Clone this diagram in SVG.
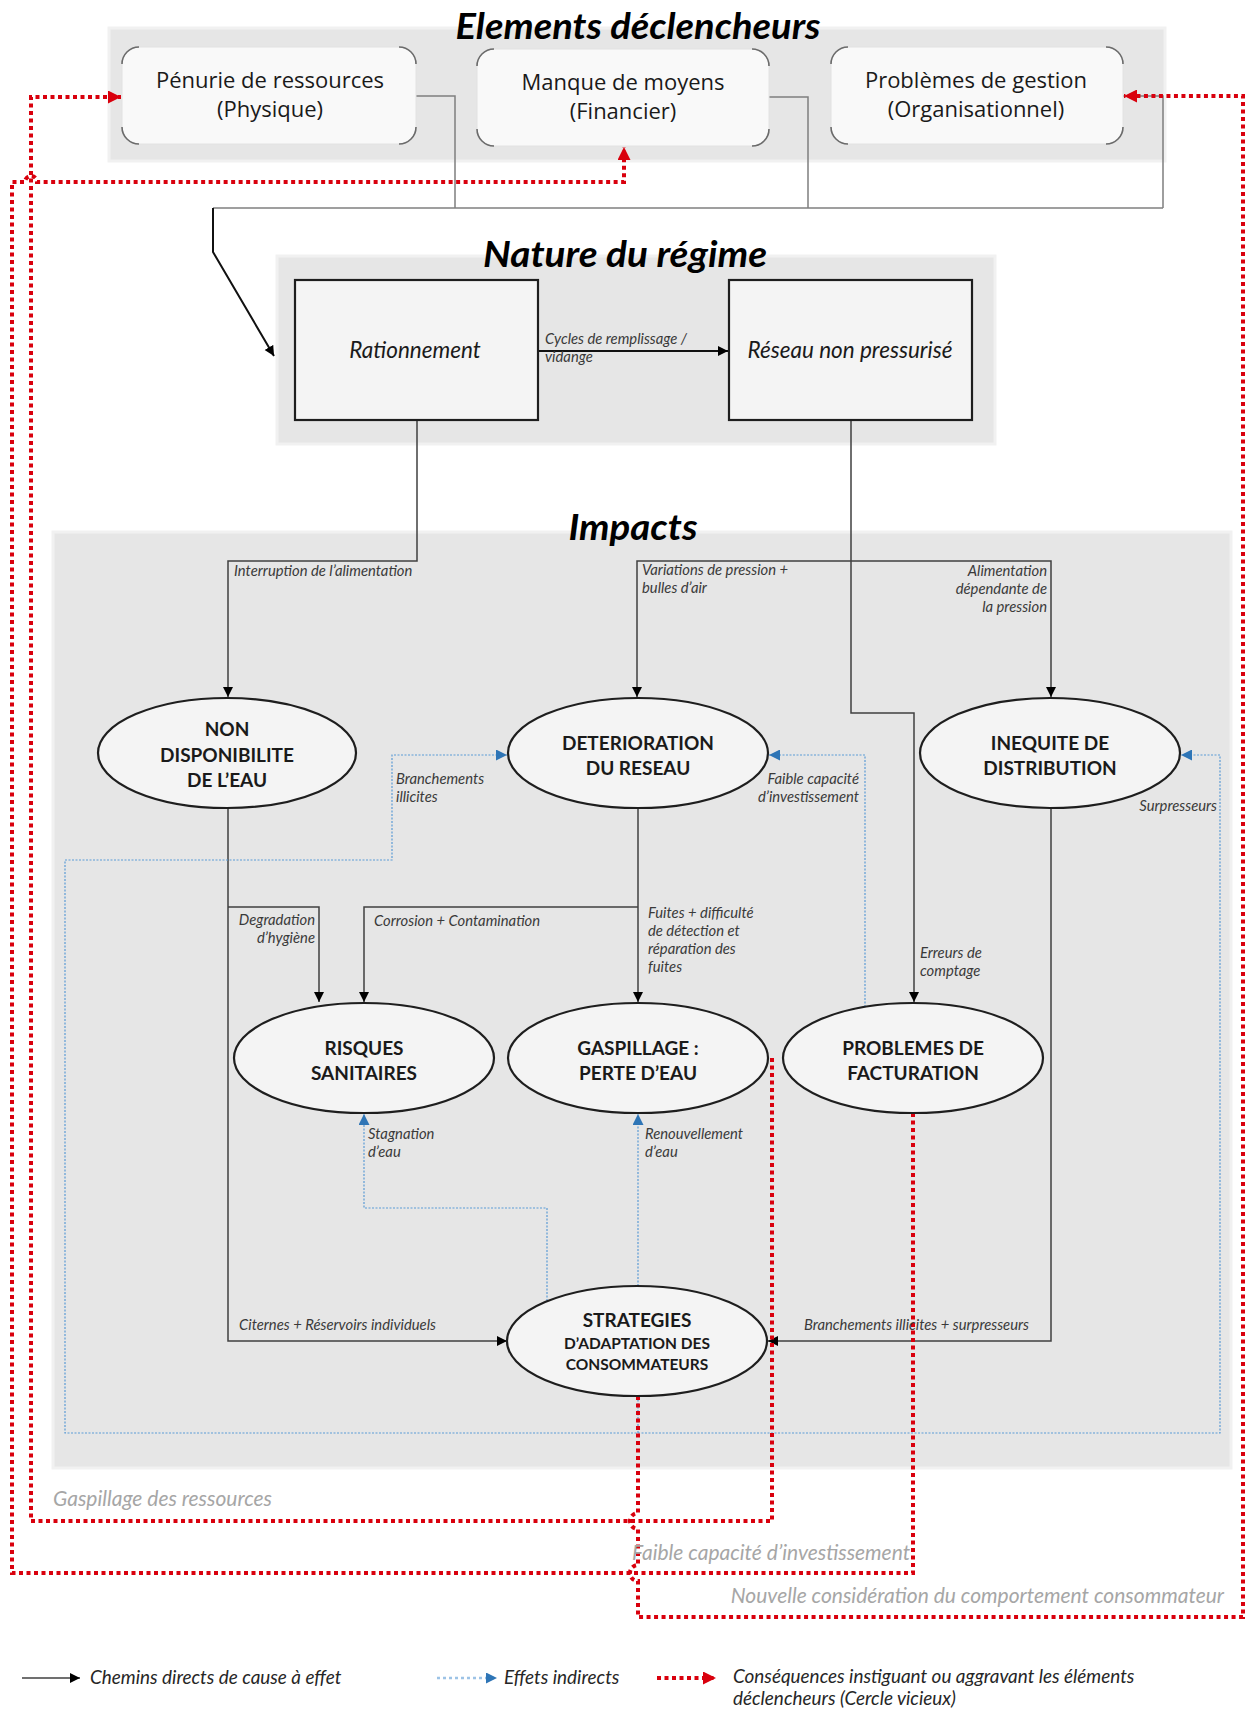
<svg xmlns="http://www.w3.org/2000/svg" width="1248" height="1711" viewBox="0 0 1248 1711">
<defs>
<style>
.panel{fill:#e6e6e6;stroke:#f1f1f1;stroke-width:3}
.tbox{fill:#f9f9f9;stroke:#e2e2e2;stroke-width:1}
.corner{fill:none;stroke:#6b6b6b;stroke-width:1.6}
.nbox{fill:#f4f4f4;stroke:#1e1e1e;stroke-width:2.2}
.ell{fill:#f4f4f4;stroke:#1e1e1e;stroke-width:2.2}
.title{font-family:Lato,"Liberation Sans",sans-serif;font-weight:bold;font-style:italic;font-size:36px;fill:#000;text-anchor:middle}
.tb{font-family:"Open Sans","Liberation Sans",sans-serif;font-size:22px;fill:#1a1a1a;text-anchor:middle}
.nt{font-family:Lato,"Liberation Sans",sans-serif;font-style:italic;font-size:22.5px;fill:#1a1a1a;text-anchor:middle}
.et{font-family:Lato,"Liberation Sans",sans-serif;font-weight:bold;font-size:19px;fill:#1a1a1a;text-anchor:middle}
.es{font-family:Lato,"Liberation Sans",sans-serif;font-weight:bold;font-size:15.5px;fill:#1a1a1a;text-anchor:middle}
.lb{font-family:Lato,"Liberation Sans",sans-serif;font-style:italic;font-size:14.8px;fill:#3a3a3a}
.lr{font-family:Lato,"Liberation Sans",sans-serif;font-style:italic;font-size:21px;fill:#a6a6a6}
.lg{font-family:Lato,"Liberation Sans",sans-serif;font-style:italic;font-size:18.9px;fill:#262626}
.end{text-anchor:end}
.gray{fill:none;stroke:#7f7f7f;stroke-width:1.5}
.blk{fill:none;stroke:#404040;stroke-width:1.5}
.blue{fill:none;stroke:#5b9bd5;stroke-width:1.2;stroke-dasharray:2 1.5}
.red{fill:none;stroke:#d9000d;stroke-width:4;stroke-dasharray:4 3.5}
</style>
<marker id="ab" viewBox="0 0 10 10" refX="10" refY="5" markerWidth="10" markerHeight="11" markerUnits="userSpaceOnUse" orient="auto"><path d="M0,0 L10,5 L0,10 z" fill="#000"/></marker>
<marker id="abl" viewBox="0 0 10 10" refX="10" refY="5" markerWidth="11" markerHeight="11" markerUnits="userSpaceOnUse" orient="auto"><path d="M0,0 L10,5 L0,10 z" fill="#2e75b6"/></marker>
<marker id="ar" viewBox="0 0 10 10" refX="10" refY="5" markerWidth="13" markerHeight="13" markerUnits="userSpaceOnUse" orient="auto"><path d="M0,0 L10,5 L0,10 z" fill="#d9000d"/></marker>
</defs>
<rect width="1248" height="1711" fill="#ffffff"/>

<g id="panels">
<rect class="panel" x="109" y="28" width="1056" height="133"/>
<rect class="panel" x="277" y="256" width="718" height="188"/>
<rect class="panel" x="53" y="532" width="1178" height="936"/>
<text class="title" x="638" y="39" textLength="365" lengthAdjust="spacingAndGlyphs">Elements déclencheurs</text>
<text class="title" x="625" y="267" textLength="284" lengthAdjust="spacingAndGlyphs">Nature du régime</text>
<text class="title" x="633" y="540" textLength="129" lengthAdjust="spacingAndGlyphs">Impacts</text>
</g>

<g id="connectors">
<path class="gray" d="M416,96 H455 V208"/>
<path class="gray" d="M769,97 H808 V208"/>
<path class="gray" d="M1123,96 H1163 V208"/>
<path class="gray" d="M213,208 H1163"/>
<path fill="none" stroke="#111" stroke-width="2" d="M213,208 V252 L274,356" marker-end="url(#ab)"/>
<path fill="none" stroke="#111" stroke-width="2.2" d="M538,351 H728" marker-end="url(#ab)"/>

<path class="blk" d="M417,420 V561 H228 V697" marker-end="url(#ab)"/>
<path class="blk" d="M851,420 V713 H914 V1002" marker-end="url(#ab)"/>
<path class="blk" d="M851,561 H637 V697" marker-end="url(#ab)"/>
<path class="blk" d="M851,561 H1051 V697" marker-end="url(#ab)"/>
<path class="blk" d="M228,808 V1341 H507" marker-end="url(#ab)"/>
<path class="blk" d="M228,907 H319 V1002" marker-end="url(#ab)"/>
<path class="blk" d="M638,808 V1002" marker-end="url(#ab)"/>
<path class="blk" d="M638,907 H364 V1002" marker-end="url(#ab)"/>
<path class="blk" d="M1051,808 V1341 H768" marker-end="url(#ab)"/>

<path class="blue" d="M638,1396 V1433 H65 V860 H392 V755 H507" marker-end="url(#abl)"/>
<path class="blue" d="M638,1433 H1220 V755 H1181" marker-end="url(#abl)"/>
<path class="blue" d="M547,1301 V1208 H364 V1114" marker-end="url(#abl)"/>
<path class="blue" d="M638,1286 V1114" marker-end="url(#abl)"/>
<path class="blue" d="M865,1007 V755 H769" marker-end="url(#abl)"/>

<path class="red" d="M772,1058 V1521 H31 V97 H121" marker-end="url(#ar)"/>
<path class="red" d="M913,1113 V1573 H12 V182 H25 A6,6 0 0 1 37,182 H624 V147" marker-end="url(#ar)"/>
<path class="red" d="M638,1396 V1513 A8,8 0 0 0 638,1529 V1565 A8,8 0 0 0 638,1581 V1617 H1243 V96 H1124" marker-end="url(#ar)"/>

<text class="lb" x="545" y="344">Cycles de remplissage /</text>
<text class="lb" x="545" y="362">vidange</text>
<text class="lb" x="234" y="576">Interruption de l’alimentation</text>
<text class="lb" x="642" y="575">Variations de pression +</text>
<text class="lb" x="642" y="593">bulles d’air</text>
<text class="lb end" x="1047" y="576">Alimentation</text>
<text class="lb end" x="1047" y="594">dépendante de</text>
<text class="lb end" x="1047" y="612">la pression</text>
<text class="lb" x="396" y="784">Branchements</text>
<text class="lb" x="396" y="802">illicites</text>
<text class="lb end" x="859" y="784">Faible capacité</text>
<text class="lb end" x="859" y="802">d’investissement</text>
<text class="lb end" x="1217" y="811">Surpresseurs</text>
<text class="lb end" x="315" y="925">Degradation</text>
<text class="lb end" x="315" y="943">d’hygiène</text>
<text class="lb" x="374" y="926">Corrosion + Contamination</text>
<text class="lb" x="648" y="918">Fuites + difficulté</text>
<text class="lb" x="648" y="936">de détection et</text>
<text class="lb" x="648" y="954">réparation des</text>
<text class="lb" x="648" y="972">fuites</text>
<text class="lb" x="920" y="958">Erreurs de</text>
<text class="lb" x="920" y="976">comptage</text>
<text class="lb" x="368" y="1139">Stagnation</text>
<text class="lb" x="368" y="1157">d’eau</text>
<text class="lb" x="645" y="1139">Renouvellement</text>
<text class="lb" x="645" y="1157">d’eau</text>
<text class="lb" x="239" y="1330">Citernes + Réservoirs individuels</text>
<text class="lb" x="804" y="1330">Branchements illicites + surpresseurs</text>

<text class="lr" x="53" y="1506">Gaspillage des ressources</text>
<text class="lr" x="632" y="1560">Faible capacité d’investissement</text>
<text class="lr end" x="1224" y="1603">Nouvelle considération du comportement consommateur</text>
</g>

<g id="n-penurie">
<rect class="tbox" x="122" y="47" width="294" height="97" rx="17"/>
<path class="corner" d="M122,64 A17,17 0 0 1 139,47 M399,47 A17,17 0 0 1 416,64 M416,127 A17,17 0 0 1 399,144 M139,144 A17,17 0 0 1 122,127"/>
<text class="tb" x="270" y="88">Pénurie de ressources</text>
<text class="tb" x="270" y="117">(Physique)</text>
</g>
<g id="n-manque">
<rect class="tbox" x="477" y="49" width="292" height="97" rx="17"/>
<path class="corner" d="M477,66 A17,17 0 0 1 494,49 M752,49 A17,17 0 0 1 769,66 M769,129 A17,17 0 0 1 752,146 M494,146 A17,17 0 0 1 477,129"/>
<text class="tb" x="623" y="90">Manque de moyens</text>
<text class="tb" x="623" y="119">(Financier)</text>
</g>
<g id="n-problemes">
<rect class="tbox" x="831" y="47" width="292" height="97" rx="17"/>
<path class="corner" d="M831,64 A17,17 0 0 1 848,47 M1106,47 A17,17 0 0 1 1123,64 M1123,127 A17,17 0 0 1 1106,144 M848,144 A17,17 0 0 1 831,127"/>
<text class="tb" x="976" y="88">Problèmes de gestion</text>
<text class="tb" x="976" y="117">(Organisationnel)</text>
</g>

<g id="n-rationnement">
<rect class="nbox" x="295" y="280" width="243" height="140"/>
<text class="nt" x="415" y="358">Rationnement</text>
</g>
<g id="n-reseau">
<rect class="nbox" x="729" y="280" width="243" height="140"/>
<text class="nt" x="850" y="358">Réseau non pressurisé</text>
</g>

<g id="n-nondispo">
<ellipse class="ell" cx="227" cy="753" rx="129" ry="55"/>
<text class="et" x="227" y="736">NON</text>
<text class="et" x="227" y="762">DISPONIBILITE</text>
<text class="et" x="227" y="787">DE L’EAU</text>
</g>
<g id="n-deterioration">
<ellipse class="ell" cx="638" cy="753" rx="130" ry="55"/>
<text class="et" x="638" y="750">DETERIORATION</text>
<text class="et" x="638" y="775">DU RESEAU</text>
</g>
<g id="n-inequite">
<ellipse class="ell" cx="1050" cy="753" rx="130" ry="55"/>
<text class="et" x="1050" y="750">INEQUITE DE</text>
<text class="et" x="1050" y="775">DISTRIBUTION</text>
</g>
<g id="n-risques">
<ellipse class="ell" cx="364" cy="1058" rx="130" ry="55"/>
<text class="et" x="364" y="1055">RISQUES</text>
<text class="et" x="364" y="1080">SANITAIRES</text>
</g>
<g id="n-gaspillage">
<ellipse class="ell" cx="638" cy="1058" rx="130" ry="55"/>
<text class="et" x="638" y="1055">GASPILLAGE :</text>
<text class="et" x="638" y="1080">PERTE D’EAU</text>
</g>
<g id="n-facturation">
<ellipse class="ell" cx="913" cy="1058" rx="130" ry="55"/>
<text class="et" x="913" y="1055">PROBLEMES DE</text>
<text class="et" x="913" y="1080">FACTURATION</text>
</g>
<g id="n-strategies">
<ellipse class="ell" cx="637" cy="1341" rx="130" ry="55"/>
<text class="et" x="637" y="1327">STRATEGIES</text>
<text class="es" x="637" y="1349">D’ADAPTATION DES</text>
<text class="es" x="637" y="1370">CONSOMMATEURS</text>
</g>

<g id="legend">
<path class="blk" d="M22,1678 H80" marker-end="url(#ab)"/>
<text class="lg" x="90" y="1684">Chemins directs de cause à effet</text>
<path fill="none" stroke="#9dc3e6" stroke-width="2.5" stroke-dasharray="3 3" d="M437,1678 H497" marker-end="url(#abl)"/>
<text class="lg" x="504" y="1684">Effets indirects</text>
<path class="red" d="M657,1678 H716" marker-end="url(#ar)"/>
<text class="lg" x="733" y="1683">Conséquences instiguant ou aggravant les éléments</text>
<text class="lg" x="733" y="1705">déclencheurs (Cercle vicieux)</text>
</g>
</svg>
